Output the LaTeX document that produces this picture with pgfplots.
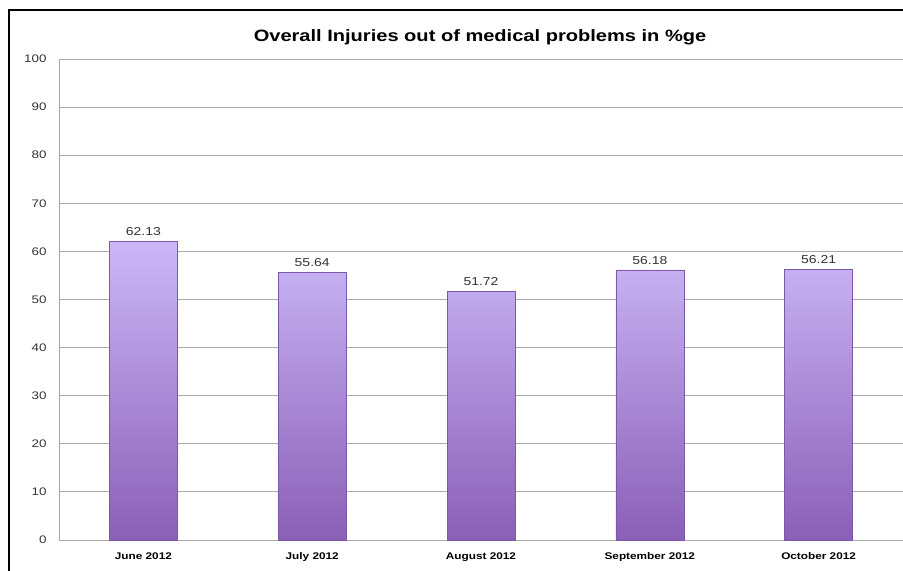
\documentclass[border=0pt]{standalone}
\usepackage{pgfplots}
\pgfplotsset{compat=1.18}
\usepackage{fontspec}
\setmainfont{Liberation Sans}[FakeStretch=1.22]
\definecolor{barTop}{HTML}{CBB8F7}
\definecolor{barBot}{HTML}{8A5FB6}
\definecolor{barEdge}{HTML}{7E58A8}
\definecolor{gridc}{HTML}{A8A8A8}
\definecolor{txt}{HTML}{333333}
\begin{document}
\begin{tikzpicture}[x=1bp,y=1bp]
\path[use as bounding box,fill=white] (0,0) rectangle (903,571);
\draw[black,line width=2.5bp] (9,0) -- (9,561) -- (903,561);
\node[font=\bfseries\fontsize{16.5}{19}\selectfont,text=black] at (480,534) {Overall Injuries out of medical problems in \%ge};
\begin{axis}[
  at={(59bp,31bp)}, anchor=south west,
  scale only axis, width=844bp, height=481bp,
  xmin=-0.5, xmax=4.5, ymin=0, ymax=100,
  xtick=data,
  xticklabels={June 2012,July 2012,August 2012,September 2012,October 2012},
  ytick={0,10,...,100},
  ymajorgrids, grid style={gridc, line width=0.8bp},
  axis x line*=bottom, axis y line*=left,
  axis line style={gridc, line width=0.8bp},
  major tick length=0pt,
  x tick label style={font=\bfseries\fontsize{9.7}{11}\selectfont, text=black, yshift=-9bp},
  y tick label style={font=\fontsize{11}{13}\selectfont, text=txt, xshift=-9bp},
  /pgf/number format/assume math mode=true,
  ybar, bar width=68bp,
  nodes near coords,
  nodes near coords style={font=\fontsize{11.5}{13}\selectfont, text=txt, yshift=2bp, /pgf/number format/fixed, /pgf/number format/precision=2, /pgf/number format/fixed zerofill, /pgf/number format/assume math mode=true},
  clip=false,
]
\addplot[draw=barEdge, line width=0.5bp, top color=barTop, bottom color=barBot] coordinates {
  (0,62.13) (1,55.64) (2,51.72) (3,56.18) (4,56.21)
};
\end{axis}
\end{tikzpicture}
\end{document}
